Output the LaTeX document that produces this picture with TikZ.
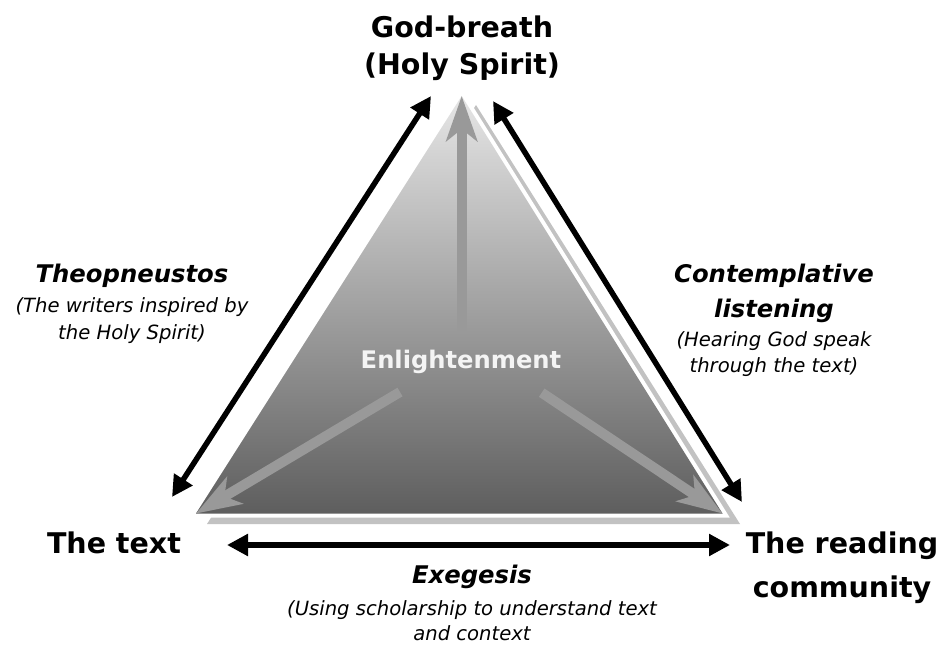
\documentclass[tikz,border=0pt]{standalone}
\usepackage{fontspec}
\setmainfont{DejaVu Sans}
\usetikzlibrary{arrows.meta}
\definecolor{shadowgray}{HTML}{C2C2C2}
\definecolor{arrowgray}{HTML}{999999}
\definecolor{topgray}{HTML}{E6E6E6}
\definecolor{botgray}{HTML}{5E5E5E}
\definecolor{softwhite}{HTML}{F4F4F4}
\begin{document}
\begin{tikzpicture}[x=1pt,y=-1pt,
  big/.style={font=\fontsize{28.5}{34}\selectfont\bfseries, anchor=base, inner sep=0pt},
  headit/.style={font=\fontsize{24.3}{29}\selectfont\bfseries\itshape, anchor=base, inner sep=0pt},
  smallit/.style={font=\fontsize{19.6}{24}\selectfont\itshape, anchor=base, inner sep=0pt},
  blackarrow/.style={line width=5.5pt, {Triangle[length=21pt,width=21pt]}-{Triangle[length=21pt,width=21pt]}},
  grayarrow/.style={draw=arrowgray, line width=10pt, -{Stealth[length=45pt,width=31pt,inset=12pt]}},
]
\useasboundingbox (0,0) rectangle (946,647);
% triangle corners
\coordinate (A) at (461.7,96);
\coordinate (B) at (196,513.5);
\coordinate (C) at (722.5,513.5);
\coordinate (SA) at (476,105);
\coordinate (SB) at (207,524);
\coordinate (SC) at (740,524);
% shadow, white rim, shaded triangle
\fill[shadowgray] (SA) -- (SB) -- (SC) -- cycle;
\draw[white, line width=8pt, line join=miter] (A) -- (B) -- (C) -- cycle;
\shade[top color=topgray, bottom color=botgray] (A) -- (B) -- (C) -- cycle;
% inner gray arrows
\coordinate (up0) at (461.7,333);
\coordinate (lf0) at (400,392);
\coordinate (rt0) at (541.7,392.7);
\draw[grayarrow] (up0) -- (A);
\draw[grayarrow] (lf0) -- (B);
\draw[grayarrow] (rt0) -- (C);
\node[font=\fontsize{24.2}{29}\selectfont\bfseries, text=softwhite, anchor=base, inner sep=0pt] (enl) at (461,369) {Enlightenment};
% corner labels
\node[big] (god1) at (462,38) {God-breath};
\node[big] (god2) at (462,75) {(Holy Spirit)};
\node[big] (txt) at (114,553) {The text};
\node[big] (read1) at (842,553) {The reading};
\node[big] (read2) at (842,597) {community};
% black arrows
\coordinate (l1) at (172,497);
\coordinate (l2) at (431,96);
\coordinate (r1) at (493,101);
\coordinate (r2) at (742,502);
\coordinate (b1) at (227,545);
\coordinate (b2) at (730,545);
\draw[blackarrow] (l1) -- (l2);
\draw[blackarrow] (r1) -- (r2);
\draw[blackarrow] (b1) -- (b2);
% edge labels
\node[headit] (theo) at (132,283) {Theopneustos};
\node[smallit] (theo1) at (132,313) {(The writers inspired by};
\node[smallit] (theo2) at (132,340) {the Holy Spirit)};
\node[headit] (cont1) at (774,283) {Contemplative};
\node[headit] (cont2) at (774,318) {listening};
\node[smallit] (cont3) at (774,346) {(Hearing God speak};
\node[smallit] (cont4) at (774,373) {through the text)};
\node[headit] (exe) at (472,583) {Exegesis};
\node[smallit] (exe1) at (472,615) {(Using scholarship to understand text};
\node[smallit] (exe2) at (472,640) {and context};
\end{tikzpicture}
\end{document}
